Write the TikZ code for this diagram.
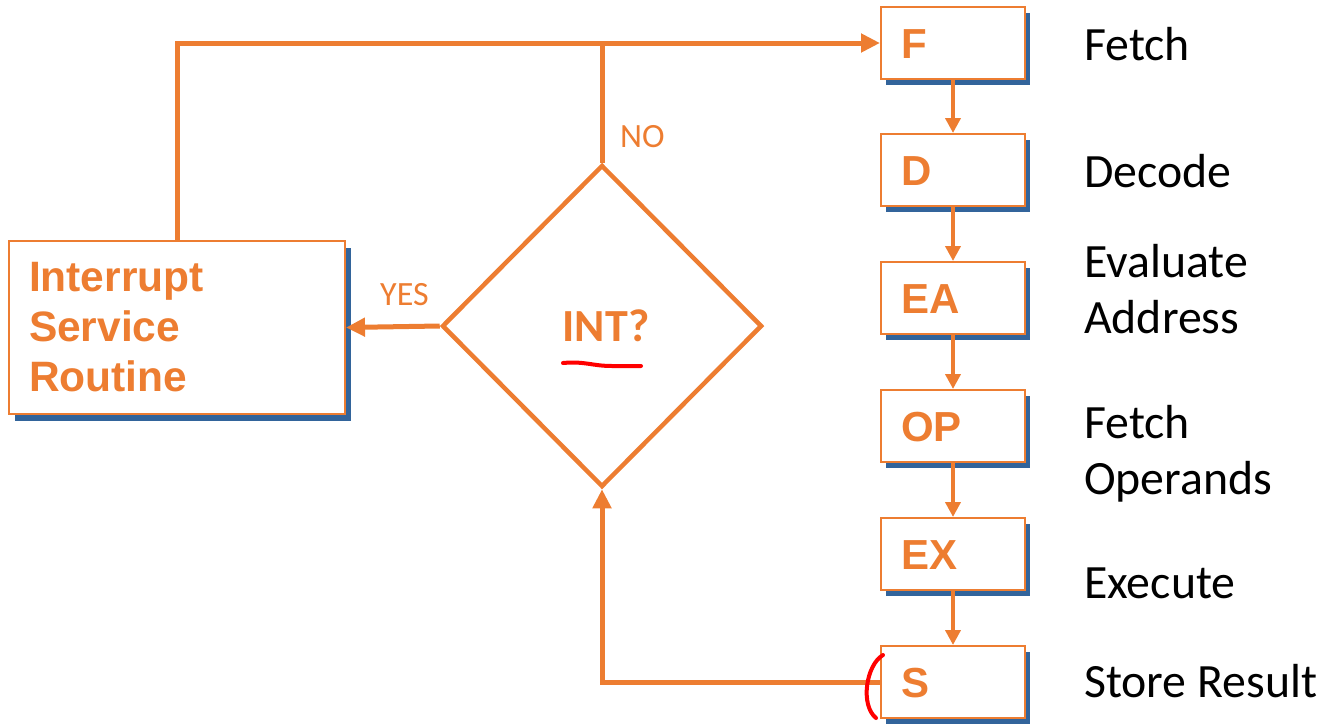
\documentclass[tikz,border=0pt]{standalone}
\usepackage{fontspec}
\setmainfont{Carlito}
\newfontfamily\arialfont{Liberation Sans}
\usetikzlibrary{shapes.geometric,arrows.meta,shadows}

\definecolor{flow}{RGB}{237,125,49}
\definecolor{shade}{RGB}{50,100,155}

\tikzset{
  stage/.style={draw=flow, line width=2pt, fill=white,
    minimum width=144pt, minimum height=72pt,
    text width=104pt, align=left, inner xsep=20pt, inner ysep=0pt,
    text height=30pt, text depth=0pt,
    font=\arialfont\bfseries\fontsize{42}{50}\selectfont, text=flow,
    drop shadow={shadow xshift=5pt, shadow yshift=-6pt, fill=shade, opacity=1}},
  isrbox/.style={draw=flow, line width=2pt, fill=white,
    minimum width=336pt, minimum height=173pt,
    text width=296pt, align=left, inner xsep=20pt, inner ysep=0pt,
    font=\arialfont\bfseries\fontsize{42.5}{50}\selectfont, text=flow,
    drop shadow={shadow xshift=6pt, shadow yshift=-7pt, fill=shade, opacity=1}},
  decision/.style={diamond, draw=flow, line width=4.5pt, fill=white,
    minimum width=320pt, minimum height=322pt, inner sep=0pt,
    font=\bfseries\fontsize{46}{50}\selectfont, text=flow},
  steplabel/.style={anchor=base west, inner sep=0pt,
    font=\fontsize{47.8}{56}\selectfont, text=black},
  branch/.style={anchor=base west, inner sep=0pt,
    font=\fontsize{34}{40}\selectfont, text=flow},
  mainline/.style={draw=flow, line width=5pt},
  mainarrow/.style={mainline, -{Triangle[length=19pt,width=18pt]}},
  nextarrow/.style={draw=flow, line width=4pt, -{Triangle[length=15pt,width=15pt]}},
  scribble/.style={draw=red, line width=4pt, line cap=round}
}

\begin{document}
\begin{tikzpicture}[x=1pt,y=-1pt]
\useasboundingbox (0,0) rectangle (1324,723);

% pipeline stages
\node[stage] (F)  at (953,43)  {F};
\node[stage] (D)  at (953,170) {D};
\node[stage] (EA) at (953,298) {EA};
\node[stage] (OP) at (953,426) {OP};
\node[stage] (EX) at (953,554) {EX};
\node[stage] (S)  at (953,682) {S};

% interrupt check and service routine
\node[decision] (int) at (602,326) {\hspace*{8pt}INT?};
\node[isrbox] (isr) at (177,327.5) {Interrupt\\Service\\Routine};

% stage descriptions
\node[steplabel] (lF)  at (1084,60)  {Fetch};
\node[steplabel] (lD)  at (1084,187) {Decode};
\node[steplabel] (lEA) at (1084,277) {\begin{tabular}[t]{@{}l@{}}Evaluate\\Address\end{tabular}};
\node[steplabel] (lOP) at (1084,438) {\begin{tabular}[t]{@{}l@{}}Fetch\\Operands\end{tabular}};
\node[steplabel] (lEX) at (1084,598) {Execute};
\node[steplabel] (lS)  at (1084,697) {Store Result};

% branch labels
\node[branch] (no)  at (620,147) {NO};
\node[branch] (yes) at (380,305) {YES};

% stage-to-stage arrows
\draw[nextarrow] (F) -- (D);
\draw[nextarrow] (D) -- (EA);
\draw[nextarrow] (EA) -- (OP);
\draw[nextarrow] (OP) -- (EX);
\draw[nextarrow] (EX) -- (S);

% control flow loops
\draw[mainarrow] (isr.north) |- (F.west);
\draw[mainline] (int.north) -- (int.north |- F.west);
\draw[mainarrow] (int.west) -- (isr.east);
\draw[mainarrow] (S.west) -| (int.south);

% hand-drawn marks
\draw[scribble] (563,363) .. controls (585,361) and (592,366) .. (612,366) -- (641,366);
\draw[scribble] (883,655) .. controls (866,665) and (860,705) .. (876,718);
\end{tikzpicture}
\end{document}
